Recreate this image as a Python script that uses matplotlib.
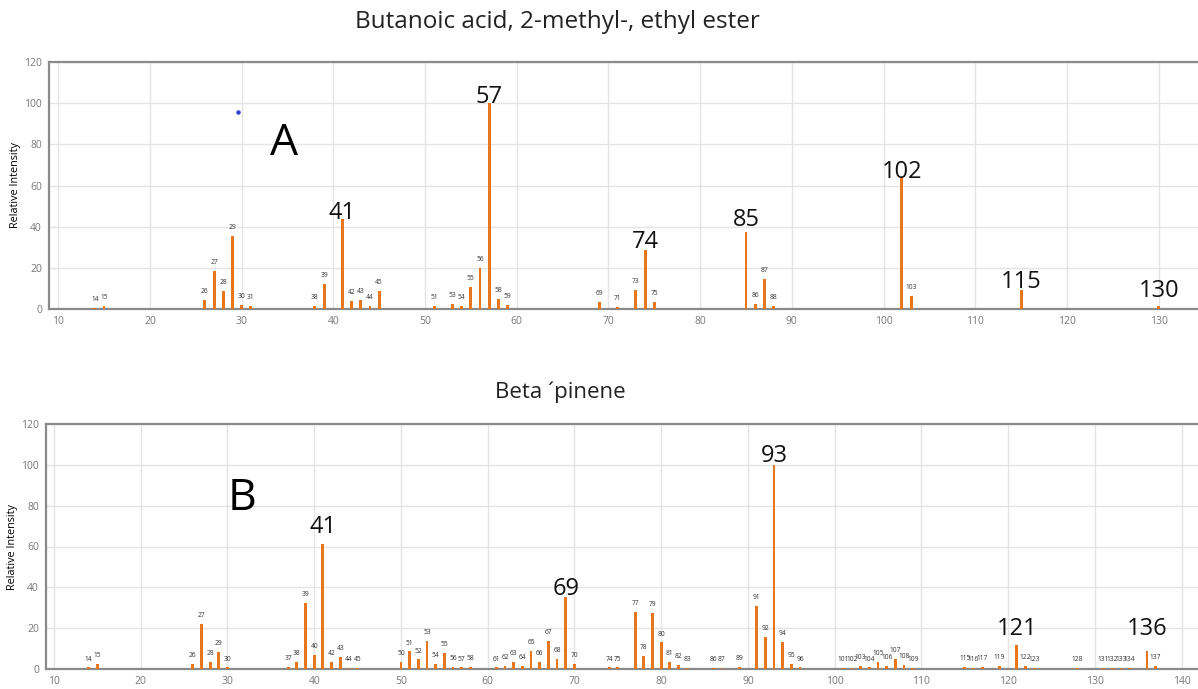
import matplotlib
matplotlib.use("Agg")
import matplotlib.pyplot as plt

# ---- Spectrum A: Butanoic acid, 2-methyl-, ethyl ester ----
a_title = "Butanoic acid, 2-methyl-, ethyl ester"
a_mz = [14, 15, 26, 27, 28, 29, 30, 31, 38, 39, 41, 42, 43, 44, 45, 51, 53, 54,
        55, 56, 57, 58, 59, 69, 71, 73, 74, 75, 85, 86, 87, 88, 102, 103, 115, 130]
a_int = [0.7, 1.6, 4.2, 18.7, 8.6, 35.4, 2.0, 1.6, 1.5, 12.2, 43.9, 4.1, 4.4, 1.3,
         8.8, 1.3, 2.6, 1.6, 10.7, 20.0, 100.0, 4.9, 2.0, 3.3, 1.0, 9.1, 28.5, 3.3,
         37.4, 2.6, 14.6, 1.6, 64.2, 6.5, 9.1, 1.6]
a_major = [41, 57, 74, 85, 102, 115, 130]
a_xticks = list(range(10, 131, 10))

# ---- Spectrum B: Beta pinene ----
b_title = "Beta ´pinene"
b_mz = [14, 15, 26, 27, 28, 29, 30, 37, 38, 39, 40, 41, 42, 43, 44, 45, 50, 51, 52,
        53, 54, 55, 56, 57, 58, 61, 62, 63, 64, 65, 66, 67, 68, 69, 70, 74, 75, 77,
        78, 79, 80, 81, 82, 83, 86, 87, 89, 91, 92, 93, 94, 95, 96, 101, 102, 103,
        104, 105, 106, 107, 108, 109, 115, 116, 117, 119, 121, 122, 123, 128, 131,
        132, 133, 134, 136, 137]
b_int = [0.8, 2.4, 2.3, 22.0, 3.6, 8.3, 0.8, 1.0, 3.3, 32.2, 7.0, 61.1, 3.3, 6.0,
         0.7, 0.7, 3.4, 8.6, 4.7, 13.8, 2.4, 7.8, 1.0, 0.8, 1.0, 0.8, 1.5, 3.6, 1.5,
         8.9, 3.6, 13.8, 4.9, 35.1, 2.4, 0.8, 0.8, 27.8, 6.2, 27.6, 13.0, 3.4, 1.8,
         0.7, 0.7, 0.7, 1.1, 31.1, 15.6, 100.0, 13.2, 2.4, 0.8, 0.5, 0.7, 1.5, 0.8,
         3.3, 1.5, 4.9, 2.1, 0.7, 1.1, 0.7, 1.1, 1.5, 11.9, 1.6, 0.7, 0.5, 0.5, 0.7,
         0.5, 0.5, 8.6, 1.6]
b_major = [41, 69, 93, 121, 136]
b_xticks = list(range(10, 141, 10))

y_ticks = [0, 20, 40, 60, 80, 100, 120]

# label lift above the bar top, in points
a_lift = {41: 0, 57: 0, 74: 1.5, 85: 4, 102: -1, 115: 1.5, 130: 6.5}
b_lift = {41: 8, 69: 2, 93: 2, 121: 7, 136: 12}

BAR = "#E8761C"
GRID = "#e4e4e4"
SPINE = "#8a8a8a"
TICK = "#777777"
FONT = ["Open Sans", "DejaVu Sans"]

fig = plt.figure(figsize=(11.98, 6.89), dpi=100)
W, H = 1198, 689


def panel(rect_px, mz, inten, major, lift, xticks, xlim, letter, letter_xy):
    l, t, r, b = rect_px
    ax = fig.add_axes([l / W, 1 - b / H, (r - l) / W, (b - t) / H])
    ax.bar(mz, inten, width=0.32, color=BAR, zorder=3)
    ax.set_xlim(*xlim)
    ax.set_ylim(0, 120)
    ax.set_xticks(xticks)
    ax.set_yticks(y_ticks)
    ax.grid(True, color=GRID, linewidth=1.0, zorder=0)
    ax.tick_params(length=0, labelsize=7.5, labelcolor=TICK, pad=5)
    for lab in ax.get_xticklabels() + ax.get_yticklabels():
        lab.set_family(FONT)
    for side in ("left", "top", "bottom"):
        ax.spines[side].set_color(SPINE)
        ax.spines[side].set_linewidth(1.6)
    ax.spines["right"].set_visible(False)
    ax.set_ylabel("Relative Intensity", fontsize=7.8, family=FONT, labelpad=2)

    for x, y in zip(mz, inten):
        if x in major:
            ax.annotate(str(x), (x, y), xytext=(0, lift.get(x, 0)),
                        textcoords="offset points", ha="center", va="baseline",
                        fontsize=17, family=FONT, color="#111111", zorder=4)
        else:
            ax.annotate(str(x), (x, y), xytext=(0, 3.5),
                        textcoords="offset points", ha="center", va="bottom",
                        fontsize=4.8, family=FONT, color="#333333", zorder=4)
    ax.text(*letter_xy, letter, transform=ax.transData, fontsize=32,
            family=FONT, ha="center", va="center", color="black")
    return ax


ax_a = panel((49, 62, 1199, 309), a_mz, a_int, a_major, a_lift, a_xticks,
             (9.0, 134.4), "A", (34.6, 80.5))
ax_a.plot([29.6], [95.6], "o", color="#3040d0", markersize=2.2, zorder=5)

ax_b = panel((46, 424, 1199, 669), b_mz, b_int, b_major, b_lift, b_xticks,
             (9.08, 142.0), "B", (31.7, 83.5))

fig.text(557 / W, 1 - 22 / H, a_title, ha="center", va="center",
         fontsize=17.5, family=FONT, color="#222222")
fig.text(560 / W, 1 - 392 / H, b_title, ha="center", va="center",
         fontsize=16, family=FONT, color="#222222")

fig.savefig("out.png", dpi=100, facecolor="white")
